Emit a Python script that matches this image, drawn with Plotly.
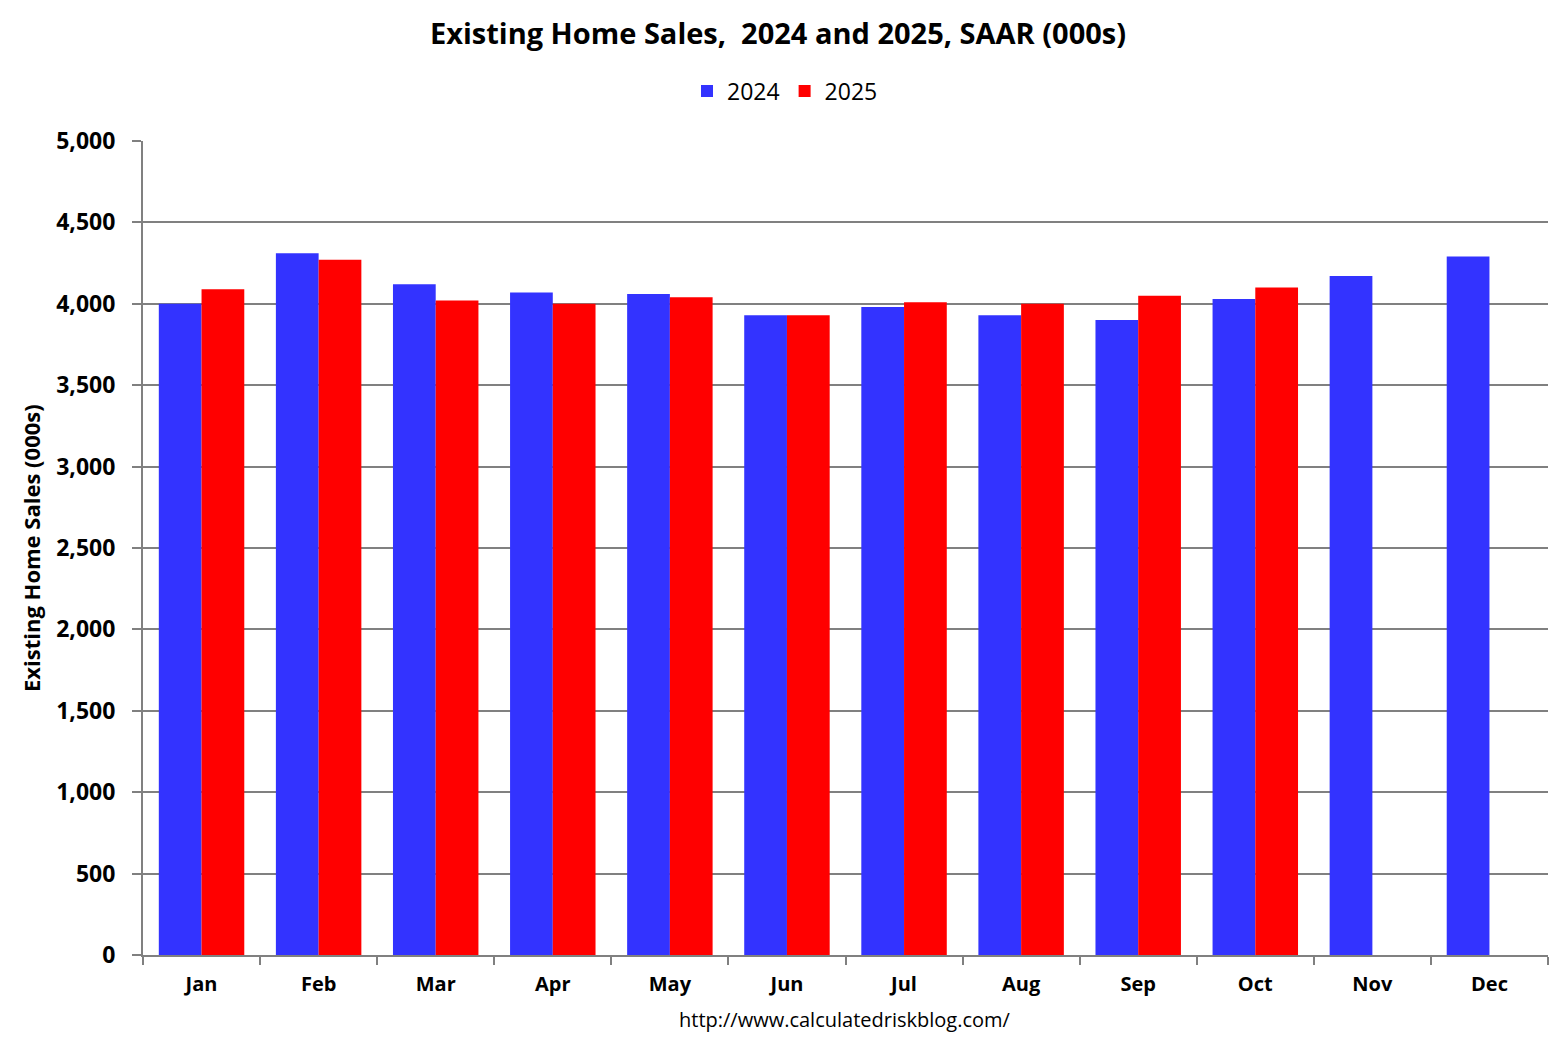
import plotly.graph_objects as go

months = ["Jan", "Feb", "Mar", "Apr", "May", "Jun", "Jul", "Aug", "Sep", "Oct", "Nov", "Dec"]
sales_2024 = [4000, 4310, 4120, 4070, 4060, 3930, 3980, 3930, 3900, 4030, 4170, 4290]
sales_2025 = [4090, 4270, 4020, 4000, 4040, 3930, 4010, 4000, 4050, 4100, None, None]
y_ticks = [0, 500, 1000, 1500, 2000, 2500, 3000, 3500, 4000, 4500, 5000]

FONT = "Open Sans"

# plot-area pixel geometry (page coords; the page body adds an 8px offset)
OFF = 8
L, R, T, B = 143, 1548, 141, 955
W, H = 1562, 1044
PW, PH = R - L, B - T

fig = go.Figure()
fig.add_trace(go.Bar(name="2024", x=months, y=sales_2024, marker=dict(color="#3333FF", line=dict(width=0))))
fig.add_trace(go.Bar(name="2025", x=months, y=sales_2025, marker=dict(color="#FF0000", line=dict(width=0))))

fig.update_layout(
    width=W, height=H,
    paper_bgcolor="white", plot_bgcolor="white",
    barmode="group", bargap=0.27, bargroupgap=0,
    margin=dict(l=L - OFF, r=W - (R - OFF), t=T - OFF, b=H - (B - OFF)),
    title=dict(text="<b>Existing Home Sales,  2024 and 2025, SAAR (000s)</b>",
               x=(778 - OFF) / W, xanchor="center", y=1 - (34 - OFF) / H, yanchor="middle",
               font=dict(family=FONT, size=29, color="black")),
    legend=dict(orientation="h", x=(785 - L) / PW, xanchor="center",
                y=1 + (T - 91) / PH, yanchor="middle",
                font=dict(family=FONT, size=23, color="black"),
                traceorder="normal", itemwidth=30),
    font=dict(family=FONT, color="black"),
)
fig.update_xaxes(
    showline=True, linecolor="#808080", linewidth=2,
    ticks="outside", ticklen=8, tickcolor="#808080", tickwidth=2,
    tickson="boundaries", ticklabelstandoff=10,
    tickfont=dict(family=FONT, size=20, color="black", weight="bold"),
    showgrid=False,
)
fig.update_yaxes(
    range=[0, 5000], tickvals=y_ticks, tickformat=",d",
    showline=True, linecolor="#808080", linewidth=2,
    ticks="outside", ticklen=9, tickcolor="#808080", tickwidth=2,
    ticklabelstandoff=12,
    showgrid=True, gridcolor="#808080", gridwidth=2,
    tickfont=dict(family=FONT, size=23, color="black", weight="bold"),
    zeroline=False,
)
fig.add_annotation(text="<b>Existing Home Sales (000s)</b>", xref="paper", yref="paper",
                   x=(31 - L) / PW, y=(B - 548) / PH, textangle=-90,
                   xanchor="center", yanchor="middle", showarrow=False,
                   font=dict(family=FONT, size=22, color="black"))
fig.add_annotation(text="http://www.calculatedriskblog.com/", xref="paper", yref="paper",
                   x=(845 - L) / PW, y=-(1020 - B) / PH,
                   xanchor="center", yanchor="middle", showarrow=False,
                   font=dict(family=FONT, size=20, color="black"))

fig.write_html("out.html")
